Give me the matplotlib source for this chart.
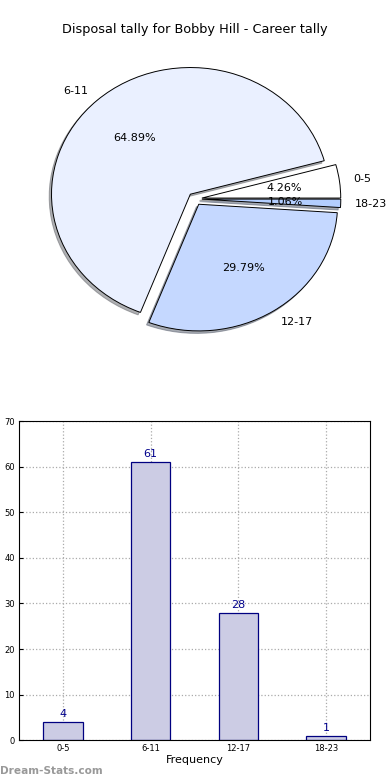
import matplotlib
matplotlib.use("Agg")
import matplotlib.pyplot as plt
import numpy as np

# tally buckets and counts
categories = ["0-5", "6-11", "12-17", "18-23"]
counts = [4, 61, 28, 1]
pie_colors = ["#ffffff", "#eaf0ff", "#c5d8ff", "#b3ceff"]

fig = plt.figure(figsize=(3.9, 7.8), dpi=100)

# pie chart on top (elliptical like the old matplotlib output)
ax1 = fig.add_axes([0.055, 0.542, 0.89, 0.406])
ax1.pie(counts, labels=categories, colors=pie_colors, autopct="%1.2f%%",
        explode=[0.05] * len(counts), shadow=dict(ox=-0.012, oy=-0.014, shade=0.6),
        startangle=0,
        wedgeprops=dict(edgecolor="black", linewidth=0.7),
        textprops=dict(fontsize=8))
ax1.set_aspect("auto")
ax1.set_xlim(-1.25, 1.25)
ax1.set_ylim(-1.25, 1.25)
ax1.axis("off")
fig.text(0.5, 0.962, "Disposal tally for Bobby Hill - Career tally",
         ha="center", va="center", fontsize=9.3)

# bar chart below
ax2 = fig.add_axes([0.049, 0.051, 0.9, 0.409])
x = np.arange(len(categories))
ax2.bar(x, counts, width=0.45, color="#ccccE4", edgecolor="#000080", linewidth=0.9, zorder=2)
for i in range(len(counts)):
    ax2.text(x[i], counts[i] + 0.6, str(counts[i]), ha="center", va="bottom",
             fontsize=8, color="#00008b")
ax2.set_xlim(-0.5, 3.5)
ax2.set_ylim(0, 70)
ax2.set_yticks(range(0, 71, 10))
ax2.set_xticks(x)
ax2.set_xticklabels(categories)
ax2.tick_params(labelsize=6, length=3, direction="in", pad=3)
ax2.grid(True, linestyle=":", color="#aaaaaa", linewidth=0.9, zorder=0)
ax2.set_xlabel("Frequency", fontsize=8, labelpad=1)

fig.text(0.0, 0.005, "Dream-Stats.com", fontsize=7.6, fontweight="bold",
         color="#999999", ha="left", va="bottom")

fig.savefig("out.png", dpi=100)
